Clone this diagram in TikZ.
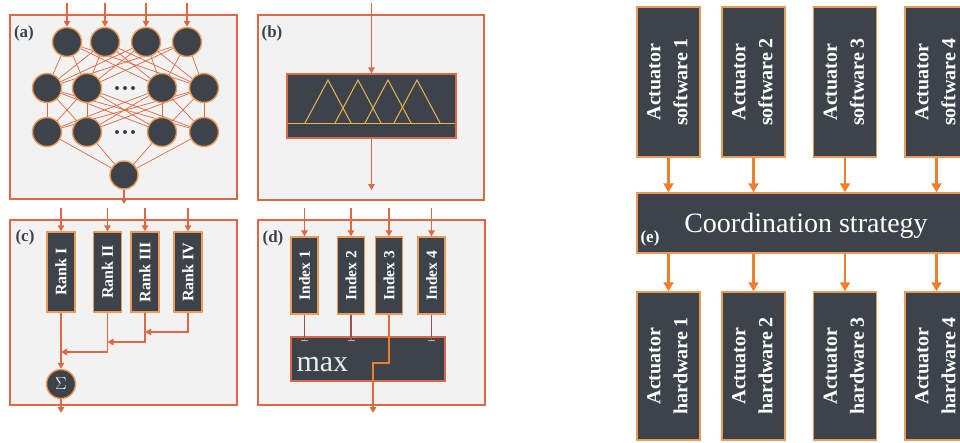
\documentclass[tikz,border=0pt]{standalone}
\usepackage{fontspec}
\setmainfont{Liberation Serif}
\usepackage{graphicx}
\usetikzlibrary{arrows.meta}
\definecolor{slate}{HTML}{3D434B}
\definecolor{rim}{HTML}{DE6844}
\definecolor{amber}{HTML}{F07F2C}
\definecolor{halo}{HTML}{EE9A55}
\definecolor{paper}{HTML}{F2F2F2}
\definecolor{fuzz}{HTML}{EBB54A}
\definecolor{wire}{HTML}{A2504A}
\definecolor{stop}{HTML}{D9A86A}
\pgfdeclarelayer{base}
\pgfdeclarelayer{back}
\pgfsetlayers{base,back,main}

\begin{document}
\begin{tikzpicture}[x=1pt,y=-1pt,
	frame/.style={draw=rim,fill=paper,line width=1.6pt},
	cell/.style={circle,fill=slate,draw=halo,line width=1.4pt,minimum size=29pt,inner sep=0pt},
	block/.style={fill=slate,draw=halo,line width=1.4pt,inner sep=0pt,text=white},
	rank/.style={block,minimum width=28pt,minimum height=80pt,font=\bfseries\fontsize{16}{16}\selectfont},
	index/.style={block,minimum width=27pt,minimum height=77pt,font=\bfseries\fontsize{15.5}{15.5}\selectfont},
	unit/.style={block,line width=1.5pt,minimum width=63pt,minimum height=150pt,font=\bfseries\fontsize{20}{27}\selectfont},
	tag/.style={font=\bfseries\fontsize{17}{17}\selectfont,text=slate},
	feed/.style={draw=rim,line width=1.4pt,-{Triangle[length=6pt,width=6.5pt]}},
	link/.style={draw=rim,line width=0.7pt},
	push/.style={draw=amber,line width=2.4pt,-{Triangle[length=9pt,width=10pt]}}]
	\useasboundingbox (0,0) rectangle (960,442);
	\clip (0,0) rectangle (960,442);
	\begin{pgfonlayer}{base}
		\draw[frame] (10,15) rectangle (237,199);
		\draw[frame] (258,15) rectangle (484,200);
		\draw[frame] (10,220) rectangle (237,405);
		\draw[frame] (258,220) rectangle (485,405);
	\end{pgfonlayer}
	
	\node[tag] at (24,33) {(a)};
	\node[cell] (A1) at (67,42) {};
	\node[cell] (A2) at (105,42) {};
	\node[cell] (A3) at (146,42) {};
	\node[cell] (A4) at (187,42) {};
	\node[cell] (B1) at (47,88) {};
	\node[cell] (B2) at (87,88) {};
	\node[cell] (B3) at (162,88) {};
	\node[cell] (B4) at (204,88) {};
	\node[cell] (C1) at (47,132) {};
	\node[cell] (C2) at (87,132) {};
	\node[cell] (C3) at (162,132) {};
	\node[cell] (C4) at (204,132) {};
	\node[cell,minimum size=28pt] (D) at (124,175) {};
	\foreach \d in {-8,0,8} {
		\fill[slate] (125+\d,88) circle (2pt);
		\fill[slate] (125+\d,132) circle (2pt);
	}
	\begin{pgfonlayer}{back}
		\foreach \i in {1,...,4} {
			\foreach \j in {1,...,4} {
				\draw[link] (A\i) -- (B\j);
				\draw[link] (B\i) -- (C\j);
			}
			\draw[link] (C\i) -- (D);
		}
	\end{pgfonlayer}
	\foreach \x [count=\i] in {67,105,146,187} {
		\coordinate (a\i) at (\x,3);
		\draw[feed] (a\i) -- (A\i);
	}
	\coordinate (a0) at (124,204);
	\draw[feed] (D) -- (a0);
	
	\node[tag] at (272,33) {(b)};
	\node[block,draw=rim,minimum width=169pt,minimum height=64pt] (F) at (371.5,106) {};
	\foreach \p in {328,358,388,417}
		\draw[fuzz,line width=1pt] (\p-23,123) -- (\p,80) -- (\p+23,123);
	\draw[fuzz,line width=1pt] (288,123) -- (455,123);
	\coordinate (b0) at (371.5,3);
	\coordinate (b1) at (371.5,190);
	\draw[feed] (b0) -- (F);
	\draw[feed] (F) -- (b1);
	
	\node[tag] at (25,237) {(c)};
	\node[rank] (R1) at (61,272) {\rotatebox{90}{Rank I}};
	\node[rank] (R2) at (107.5,272) {\rotatebox{90}{Rank II}};
	\node[rank] (R3) at (145,272) {\rotatebox{90}{Rank III}};
	\node[rank] (R4) at (188,272) {\rotatebox{90}{Rank IV}};
	\node[cell,text=white] (S) at (61,384) {\fontsize{16}{16}\selectfont$\Sigma$};
	\foreach \x [count=\i] in {61,107.5,145,188} {
		\coordinate (r\i) at (\x,208);
		\draw[feed] (r\i) -- (R\i);
	}
	\coordinate (s2) at (61,352);
	\coordinate (s3) at (107.5,342);
	\coordinate (s4) at (145,332);
	\coordinate (s0) at (61,413);
	\draw[feed] (R1) -- (S);
	\draw[feed] (R2.south) |- (s2);
	\draw[feed] (R3.south) |- (s3);
	\draw[feed] (R4.south) |- (s4);
	\draw[feed] (S) -- (s0);
	
	\node[tag] at (273,238) {(d)};
	\node[index] (I1) at (304.5,275.5) {\rotatebox{90}{Index 1}};
	\node[index] (I2) at (351,275.5) {\rotatebox{90}{Index 2}};
	\node[index] (I3) at (389,275.5) {\rotatebox{90}{Index 3}};
	\node[index] (I4) at (431.5,275.5) {\rotatebox{90}{Index 4}};
	\node[block,draw=rim,minimum width=154pt,minimum height=44pt] (M) at (368,359) {};
	\node[text=white!90!slate,font=\fontsize{30}{30}\selectfont,anchor=base west] (max) at (293,371) {max};
	\foreach \x [count=\i] in {304.5,351,389,431.5} {
		\coordinate (i\i) at (\x,208);
		\draw[feed] (i\i) -- (I\i);
	}
	\foreach \i in {1,2,4} {
		\coordinate (m\i) at (I\i |- 0,341);
		\draw[wire,line width=1.2pt,-{Bar[width=7pt,color=stop]}] (I\i) -- (m\i);
	}
	\coordinate (k1) at (389,363);
	\coordinate (k2) at (373,363);
	\coordinate (k3) at (373,381);
	\coordinate (d0) at (373,413);
	\draw[rim,line width=1.8pt] (I3) -- (I3 |- M.north);
	\draw[amber,line width=1.8pt] (I3 |- M.north) -- (k1) -- (k2) -- (k3);
	\draw[feed,line width=1.8pt] (k3) -- (d0);
	
	\node[unit] (W1) at (668.5,82) {\rotatebox{90}{\begin{tabular}{@{}c@{}}Actuator\\software 1\end{tabular}}};
	\node[unit] (W2) at (753.5,82) {\rotatebox{90}{\begin{tabular}{@{}c@{}}Actuator\\software 2\end{tabular}}};
	\node[unit] (W3) at (845,82) {\rotatebox{90}{\begin{tabular}{@{}c@{}}Actuator\\software 3\end{tabular}}};
	\node[unit] (W4) at (936.5,82) {\rotatebox{90}{\begin{tabular}{@{}c@{}}Actuator\\software 4\end{tabular}}};
	\node[block,line width=1.5pt,minimum width=338pt,minimum height=60pt,text depth=0pt,font=\fontsize{28}{28}\selectfont] (K) at (806,223) {Coordination strategy};
	\node[font=\bfseries\fontsize{17}{17}\selectfont,text=white] (e) at (650,238) {(e)};
	\node[unit,minimum height=148pt] (H1) at (668.5,366) {\rotatebox{90}{\begin{tabular}{@{}c@{}}Actuator\\hardware 1\end{tabular}}};
	\node[unit,minimum height=148pt] (H2) at (753.5,366) {\rotatebox{90}{\begin{tabular}{@{}c@{}}Actuator\\hardware 2\end{tabular}}};
	\node[unit,minimum height=148pt] (H3) at (845,366) {\rotatebox{90}{\begin{tabular}{@{}c@{}}Actuator\\hardware 3\end{tabular}}};
	\node[unit,minimum height=148pt] (H4) at (936.5,366) {\rotatebox{90}{\begin{tabular}{@{}c@{}}Actuator\\hardware 4\end{tabular}}};
	\foreach \i in {1,...,4} {
		\draw[push] (W\i) -- (W\i |- K.north);
		\draw[push] (K.south -| H\i) -- (H\i);
	}
\end{tikzpicture}
\end{document}
